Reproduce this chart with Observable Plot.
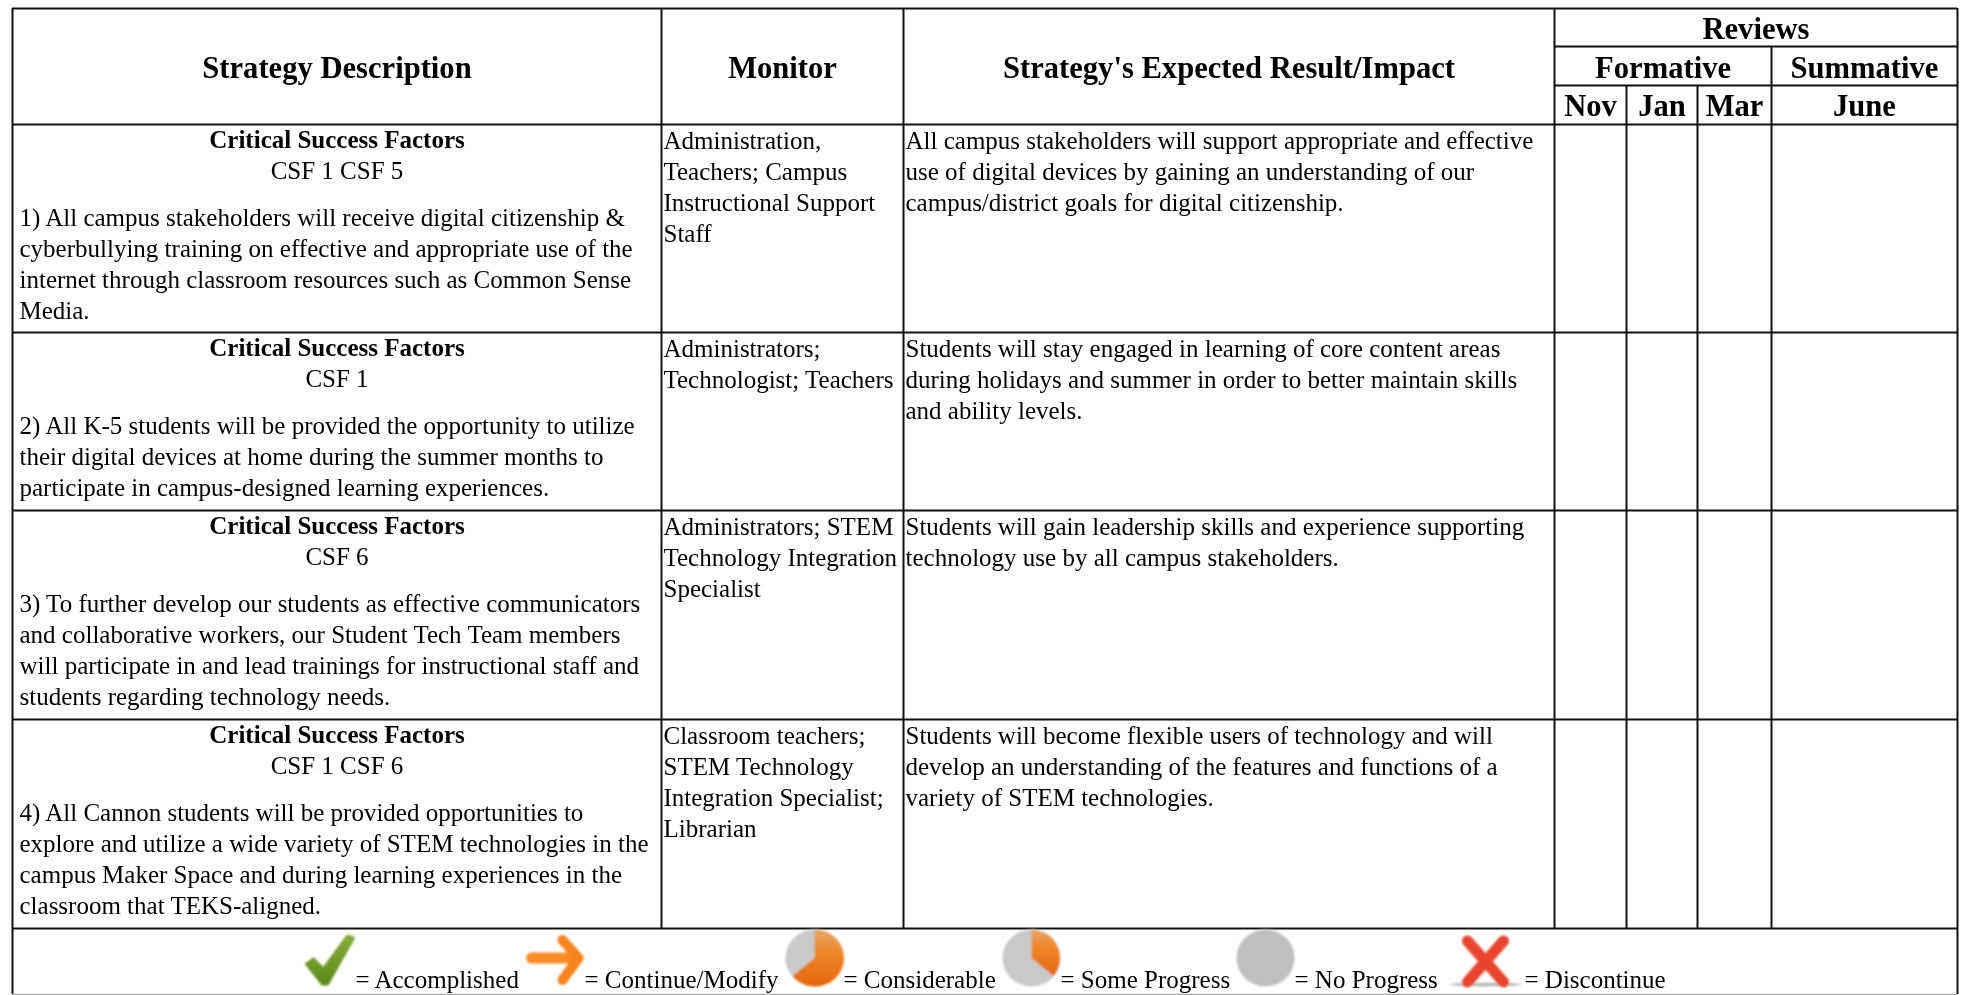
<!DOCTYPE html>
<html><head><meta charset="utf-8">
<script src="https://cdn.jsdelivr.net/npm/d3@7"></script>
<script src="https://cdn.jsdelivr.net/npm/@observablehq/plot@0.6"></script>
<style>html,body{margin:0;padding:0;background:#fff;overflow:hidden}svg{display:block}</style>
</head><body><div id="chart"></div>
<script>
const headers = ["Strategy Description","Monitor","Strategy's Expected Result/Impact"];
const months = ["Nov","Jan","Mar","June"];
const csf = ["CSF 1 CSF 5","CSF 1","CSF 6","CSF 1 CSF 6"];
const strategies = [
"1) All campus stakeholders will receive digital citizenship &\ncyberbullying training on effective and appropriate use of the\ninternet through classroom resources such as Common Sense\nMedia.",
"2) All K-5 students will be provided the opportunity to utilize\ntheir digital devices at home during the summer months to\nparticipate in campus-designed learning experiences.",
"3) To further develop our students as effective communicators\nand collaborative workers, our Student Tech Team members\nwill participate in and lead trainings for instructional staff and\nstudents regarding technology needs.",
"4) All Cannon students will be provided opportunities to\nexplore and utilize a wide variety of STEM technologies in the\ncampus Maker Space and during learning experiences in the\nclassroom that TEKS-aligned."];
const monitors = [
"Administration,\nTeachers; Campus\nInstructional Support\nStaff",
"Administrators;\nTechnologist; Teachers",
"Administrators; STEM\nTechnology Integration\nSpecialist",
"Classroom teachers;\nSTEM Technology\nIntegration Specialist;\nLibrarian"];
const impacts = [
"All campus stakeholders will support appropriate and effective\nuse of digital devices by gaining an understanding of our\ncampus/district goals for digital citizenship.",
"Students will stay engaged in learning of core content areas\nduring holidays and summer in order to better maintain skills\nand ability levels.",
"Students will gain leadership skills and experience supporting\ntechnology use by all campus stakeholders.",
"Students will become flexible users of technology and will\ndevelop an understanding of the features and functions of a\nvariety of STEM technologies."];
const legendLabels = ["= Accomplished","= Continue/Modify","= Considerable","= Some Progress","= No Progress","= Discontinue"];

// layout
const colEdges=[12,661,903,1554,1626,1697,1771,1957];
const rowEdges=[8,46,85,124,332,510,719,928,994];
const legendTextX=[355,584,843,1060,1294,1524];
const legendIconX=[329,556,814,1031,1265,1485];
const svgUri=s=>"data:image/svg+xml,"+encodeURIComponent(`<svg xmlns="http://www.w3.org/2000/svg" viewBox="0 0 80 60" width="80" height="60"><defs><filter id="b" x="-20%" y="-20%" width="140%" height="140%"><feGaussianBlur stdDeviation="0.8"/></filter><linearGradient id="g" x1="0" y1="0" x2="0" y2="1"><stop offset="0" stop-color="#e6a76a"/><stop offset="0.35" stop-color="#ee8a2c"/><stop offset="1" stop-color="#e5650c"/></linearGradient><linearGradient id="c" x1="0" y1="0" x2="0" y2="1"><stop offset="0" stop-color="#86ad3a"/><stop offset="1" stop-color="#5d8a1c"/></linearGradient></defs><g filter="url(#b)">${s}</g></svg>`);
const ell=(fill)=>`<ellipse cx="40" cy="30" rx="29" ry="28.5" fill="${fill}"/>`;
const icons=[
 svgUri(`<path d="M17 36 L24 31 L34 41 L58 8 L64 10 L38 56 L33 56 Z" fill="url(#c)" stroke="url(#c)" stroke-width="3" stroke-linejoin="round"/>`),
 svgUri(`<path d="M15 30 H60" fill="none" stroke="#f98c20" stroke-width="11" stroke-linecap="round"/><path d="M46 12 L62 30 L46 52" fill="none" stroke="#f7851a" stroke-width="10" stroke-linecap="round" stroke-linejoin="round"/>`),
 svgUri(ell("#c9c9c9")+`<path d="M40 30 L40 1.5 A29 28.5 0 1 1 18 48 Z" fill="url(#g)"/>`),
 svgUri(ell("#c9c9c9")+`<path d="M40 30 L40 1.5 A29 28.5 0 0 1 62 48 Z" fill="url(#g)"/>`),
 svgUri(ell("#bfbfbf")),
 svgUri(`<ellipse cx="40" cy="56.5" rx="36" ry="2" fill="#bbb"/><path d="M22 13 L58 54 M58 13 L22 54" fill="none" stroke="#e9452e" stroke-width="11" stroke-linecap="round"/>`)
];

const fs=25, ff="Liberation Serif", lh=1.23, hfs=30.6;
const rows=strategies.map((s,i)=>({i,s,c:csf[i],m:monitors[i],r:impacts[i],y:3+i}));
const v=[[0,0,8],[1,0,7],[2,0,7],[3,0,7],[4,2,7],[5,2,7],[6,1,7],[7,0,8]];
const h=[[0,0,7],[1,3,7],[2,3,7],[3,0,7],[4,0,7],[5,0,7],[6,0,7],[7,0,7]];
const text=(data,opts)=>Plot.text(data,{fontFamily:ff,fontSize:fs,lineHeight:lh,fill:"#000",lineAnchor:"top",textAnchor:"start",...opts});
const head=(data,opts)=>text(data,{text:d=>d,textAnchor:"middle",lineAnchor:"middle",fontWeight:"bold",fontSize:hfs,...opts});
const plot=Plot.plot({
 width:1961,height:995,margin:0,
 x:{type:"linear",domain:d3.range(8),range:colEdges,axis:null},
 y:{type:"linear",domain:d3.range(9),range:rowEdges,axis:null},
 style:{background:"#fff",filter:"blur(0.4px)"},
 marks:[
  Plot.ruleX(v,{x:d=>d[0],y1:d=>d[1],y2:d=>d[2],stroke:"#111",strokeWidth:2}),
  Plot.ruleY(h,{y:d=>d[0],x1:d=>d[1],x2:d=>d[2],stroke:"#111",strokeWidth:2}),
  Plot.ruleY([8],{x1:0,x2:7,stroke:"#aaa",strokeWidth:1.5}),
  head(headers,{x:(d,i)=>i+0.5,y:1.5,dy:-0.5}),
  head(["Reviews"],{x:5.79,y:0.5,dy:-1}),
  head(["Formative"],{x:4.515,y:1.5,dy:0}),
  head(["Summative"],{x:6.5,y:1.5,dy:0}),
  head(months,{x:(d,i)=>i+3.5,y:2.5,dy:-1.5}),
  text(rows,{x:0.5,y:"y",text:()=>"Critical Success Factors",textAnchor:"middle",dy:2,fontWeight:"bold"}),
  text(rows,{x:0.5,y:"y",text:"c",textAnchor:"middle",dy:33}),
  text(rows,{x:0,y:"y",text:"s",dx:7,dy:80}),
  text(rows,{x:1,y:"y",text:"m",dx:2,dy:3}),
  text(rows,{x:2,y:"y",text:"r",dx:2,dy:3}),
  ...legendLabels.map((l,i)=>text([l],{x:0,y:8,dy:-7,text:d=>d,lineAnchor:"bottom",dx:legendTextX[i]-colEdges[0]})),
  ...icons.map((src,i)=>Plot.image([src],{x:0,y:7.5,src:d=>d,width:80,height:60,dx:legendIconX[i]-colEdges[0],dy:-3.5}))
 ]
});
document.getElementById("chart").append(plot);
</script></body></html>
